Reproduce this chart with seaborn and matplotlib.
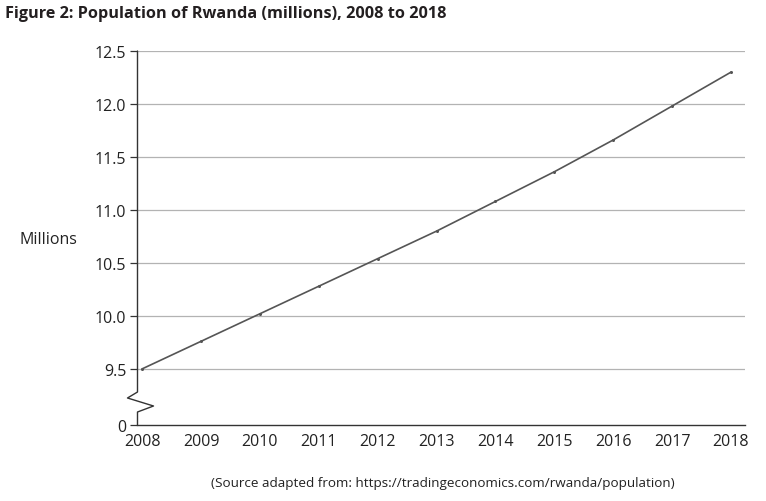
import matplotlib
matplotlib.use("Agg")
import matplotlib.pyplot as plt
import seaborn as sns
import pandas as pd

years = [2008, 2009, 2010, 2011, 2012, 2013, 2014, 2015, 2016, 2017, 2018]
population = [9.50, 9.76, 10.02, 10.28, 10.54, 10.80, 11.08, 11.36, 11.66, 11.98, 12.30]
y_ticks = [9.5, 10.0, 10.5, 11.0, 11.5, 12.0, 12.5]
y_labels = ["9.5", "10.0", "10.5", "11.0", "11.5", "12.0", "12.5"]

# position of the "0" label below the axis break
zero_pos = 8.97

sns.set_style("white")
plt.rcParams["font.family"] = ["Open Sans", "DejaVu Sans"]

df = pd.DataFrame({"year": years, "population": population})

fig = plt.figure(figsize=(7.66, 5.02), dpi=100)
ax = fig.add_axes([0.1795, 0.1514, 0.9726 - 0.1795, 0.8964 - 0.1514])

for t in y_ticks:
    ax.axhline(t, color="#b3b3b3", lw=0.9, zorder=1)

sns.lineplot(data=df, x="year", y="population", ax=ax, color="#555555", lw=1.2,
             marker="o", markersize=2.2, markeredgewidth=0, zorder=3)

ax.set_xlim(2007.92, 2018.24)
ax.set_ylim(zero_pos, 12.5)
ax.set_xticks(years)
ax.set_xticklabels([str(y) for y in years])
ax.set_yticks([zero_pos] + y_ticks)
ax.set_yticklabels(["0"] + y_labels)

for side in ["top", "right", "left"]:
    ax.spines[side].set_visible(False)
ax.spines["bottom"].set_color("#333333")
ax.spines["bottom"].set_linewidth(1.0)

ax.tick_params(axis="x", direction="out", length=4, width=0.9, color="#333333",
               labelsize=11.5, labelcolor="#222222", pad=2)
ax.tick_params(axis="y", direction="out", length=5, width=0.9, color="#333333",
               labelsize=11.5, labelcolor="#222222", pad=3, left=True)

# broken left spine with zigzag
ppy = (12.5 - zero_pos) / (426 - 52)  # data units per pixel
ppx = (2018.24 - 2007.92) / (745 - 137.5)
x0 = 2007.92
def yp(p):
    return 12.5 - (p - 52) * ppy
zx = [x0, x0, x0 - 10 * ppx, x0 + 16 * ppx, x0, x0]
zy = [12.5, yp(393), yp(399), yp(407), yp(413), zero_pos]
ax.plot(zx, zy, color="#333333", lw=1.0, clip_on=False, zorder=4)

ax.set_xlabel("")
ax.set_ylabel("")

fig.text(0.007, 0.972, "Figure 2: Population of Rwanda (millions), 2008 to 2018",
         fontsize=11.7, fontweight="bold", color="#231f20", ha="left", va="center")
fig.text(0.026, (502 - 240) / 502, "Millions", fontsize=11.5, color="#222222",
         ha="left", va="center")
fig.text(0.578, (502 - 484) / 502,
         "(Source adapted from: https://tradingeconomics.com/rwanda/population)",
         fontsize=9.7, color="#222222", ha="center", va="center")

fig.savefig("out.png", dpi=100)
